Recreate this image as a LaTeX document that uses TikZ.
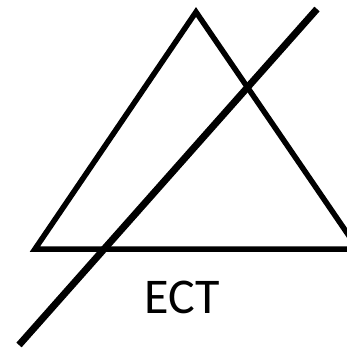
\documentclass[tikz,border=0pt]{standalone}
\usepackage{fontspec}
\setmainfont{Carlito}
\begin{document}
\begin{tikzpicture}[x=1pt,y=-1pt,
  tri/.style={line width=5.5pt,line join=miter},
  slash/.style={line width=7pt},
  lbl/.style={font=\fontsize{50}{50}\selectfont,inner sep=0pt,anchor=base}]
\useasboundingbox (0,0) rectangle (347,351);
\clip (0,0) rectangle (347,351);
\draw[tri] (196,12) -- (35,249) -- (358,249) -- cycle;
\coordinate (s1) at (317,9);
\coordinate (s2) at (19,345);
\draw[slash] (s1) -- (s2);
\node[lbl] (ect) at (182,313) {ECT};
\end{tikzpicture}
\end{document}
